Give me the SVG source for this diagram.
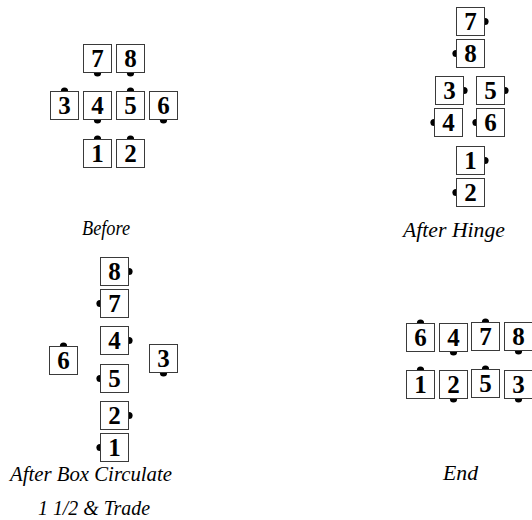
<svg xmlns="http://www.w3.org/2000/svg" width="532" height="520" viewBox="0 0 532 520">
<style>
.box{fill:#fff;stroke:#3a3a3a;stroke-width:1}
.dot{fill:#000}
.num{font-family:"Liberation Serif","DejaVu Serif",serif;font-size:25px;font-weight:bold;text-anchor:middle;fill:#000}
.lbl{font-family:"Liberation Serif","DejaVu Serif",serif;font-size:22px;font-style:italic;fill:#000}
</style>
<defs>
<g id="sq"><rect class="box" x="0.5" y="0.5" width="28" height="28"/></g>
</defs>
<rect width="532" height="520" fill="#fff"/>
<g id="connectors"/>

<!-- Before -->
<g id="before">
<g id="b7"><circle class="dot" cx="97.5" cy="73" r="3.6"/><use href="#sq" x="83" y="44"/><text class="num" x="97.5" y="67">7</text></g>
<g id="b8"><circle class="dot" cx="130.5" cy="73" r="3.6"/><use href="#sq" x="116" y="44"/><text class="num" x="130.5" y="67">8</text></g>
<g id="b3"><circle class="dot" cx="64.5" cy="91" r="3.6"/><use href="#sq" x="50" y="91"/><text class="num" x="64.5" y="114">3</text></g>
<g id="b4"><circle class="dot" cx="97.5" cy="120" r="3.6"/><use href="#sq" x="83" y="91"/><text class="num" x="97.5" y="114">4</text></g>
<g id="b5"><circle class="dot" cx="130.5" cy="91" r="3.6"/><use href="#sq" x="116" y="91"/><text class="num" x="130.5" y="114">5</text></g>
<g id="b6"><circle class="dot" cx="163.5" cy="120" r="3.6"/><use href="#sq" x="149" y="91"/><text class="num" x="163.5" y="114">6</text></g>
<g id="b1"><circle class="dot" cx="97.5" cy="139" r="3.6"/><use href="#sq" x="83" y="139"/><text class="num" x="97.5" y="162">1</text></g>
<g id="b2"><circle class="dot" cx="130.5" cy="139" r="3.6"/><use href="#sq" x="116" y="139"/><text class="num" x="130.5" y="162">2</text></g>
<text id="lbl-before" class="lbl" x="82" y="235" textLength="48" lengthAdjust="spacingAndGlyphs">Before</text>
</g>

<!-- After Hinge -->
<g id="hinge">
<g id="h7"><circle class="dot" cx="485" cy="21.5" r="3.6"/><use href="#sq" x="456" y="7"/><text class="num" x="470.5" y="30">7</text></g>
<g id="h8"><circle class="dot" cx="456" cy="53.5" r="3.6"/><use href="#sq" x="456" y="39"/><text class="num" x="470.5" y="62">8</text></g>
<g id="h3"><circle class="dot" cx="464" cy="90.5" r="3.6"/><use href="#sq" x="435" y="76"/><text class="num" x="449.5" y="99">3</text></g>
<g id="h5"><circle class="dot" cx="505" cy="90.5" r="3.6"/><use href="#sq" x="476" y="76"/><text class="num" x="490.5" y="99">5</text></g>
<g id="h4"><circle class="dot" cx="434" cy="122.5" r="3.6"/><use href="#sq" x="434" y="108"/><text class="num" x="448.5" y="131">4</text></g>
<g id="h6"><circle class="dot" cx="476" cy="122.5" r="3.6"/><use href="#sq" x="476" y="108"/><text class="num" x="490.5" y="131">6</text></g>
<g id="h1"><circle class="dot" cx="485" cy="160.5" r="3.6"/><use href="#sq" x="456" y="146"/><text class="num" x="470.5" y="169">1</text></g>
<g id="h2"><circle class="dot" cx="456" cy="192.5" r="3.6"/><use href="#sq" x="456" y="178"/><text class="num" x="470.5" y="201">2</text></g>
<text id="lbl-hinge" class="lbl" x="403" y="237" textLength="102" lengthAdjust="spacingAndGlyphs">After Hinge</text>
</g>

<!-- After Box Circulate 1 1/2 & Trade -->
<g id="boxcirc">
<g id="c8"><circle class="dot" cx="129" cy="271.5" r="3.6"/><use href="#sq" x="100" y="257"/><text class="num" x="114.5" y="280">8</text></g>
<g id="c7"><circle class="dot" cx="100" cy="303.5" r="3.6"/><use href="#sq" x="100" y="289"/><text class="num" x="114.5" y="312">7</text></g>
<g id="c4"><circle class="dot" cx="129" cy="340.5" r="3.6"/><use href="#sq" x="100" y="326"/><text class="num" x="114.5" y="349">4</text></g>
<g id="c6"><circle class="dot" cx="63.5" cy="346" r="3.6"/><use href="#sq" x="49" y="346"/><text class="num" x="63.5" y="369">6</text></g>
<g id="c3"><circle class="dot" cx="163.5" cy="373" r="3.6"/><use href="#sq" x="149" y="344"/><text class="num" x="163.5" y="367">3</text></g>
<g id="c5"><circle class="dot" cx="100" cy="378.5" r="3.6"/><use href="#sq" x="100" y="364"/><text class="num" x="114.5" y="387">5</text></g>
<g id="c2"><circle class="dot" cx="129" cy="415.5" r="3.6"/><use href="#sq" x="100" y="401"/><text class="num" x="114.5" y="424">2</text></g>
<g id="c1"><circle class="dot" cx="100" cy="447.5" r="3.6"/><use href="#sq" x="100" y="433"/><text class="num" x="114.5" y="456">1</text></g>
<text id="lbl-bc1" class="lbl" x="10" y="481" textLength="162" lengthAdjust="spacingAndGlyphs">After Box Circulate</text>
<text id="lbl-bc2" class="lbl" x="38" y="515" textLength="112" lengthAdjust="spacingAndGlyphs">1 1/2 &amp; Trade</text>
</g>

<!-- End -->
<g id="end">
<g id="e6"><circle class="dot" cx="420.5" cy="323" r="3.6"/><use href="#sq" x="406" y="323"/><text class="num" x="420.5" y="346">6</text></g>
<g id="e4"><circle class="dot" cx="453.5" cy="352" r="3.6"/><use href="#sq" x="439" y="323"/><text class="num" x="453.5" y="346">4</text></g>
<g id="e7"><circle class="dot" cx="485.5" cy="322" r="3.6"/><use href="#sq" x="471" y="322"/><text class="num" x="485.5" y="345">7</text></g>
<g id="e8"><circle class="dot" cx="518.5" cy="351" r="3.6"/><use href="#sq" x="504" y="322"/><text class="num" x="518.5" y="345">8</text></g>
<g id="e1"><circle class="dot" cx="420.5" cy="370" r="3.6"/><use href="#sq" x="406" y="370"/><text class="num" x="420.5" y="393">1</text></g>
<g id="e2"><circle class="dot" cx="453.5" cy="399" r="3.6"/><use href="#sq" x="439" y="370"/><text class="num" x="453.5" y="393">2</text></g>
<g id="e5"><circle class="dot" cx="485.5" cy="369" r="3.6"/><use href="#sq" x="471" y="369"/><text class="num" x="485.5" y="392">5</text></g>
<g id="e3"><circle class="dot" cx="518.5" cy="399" r="3.6"/><use href="#sq" x="504" y="370"/><text class="num" x="518.5" y="393">3</text></g>
<text id="lbl-end" class="lbl" x="443" y="480" textLength="35" lengthAdjust="spacingAndGlyphs">End</text>
</g>
</svg>
